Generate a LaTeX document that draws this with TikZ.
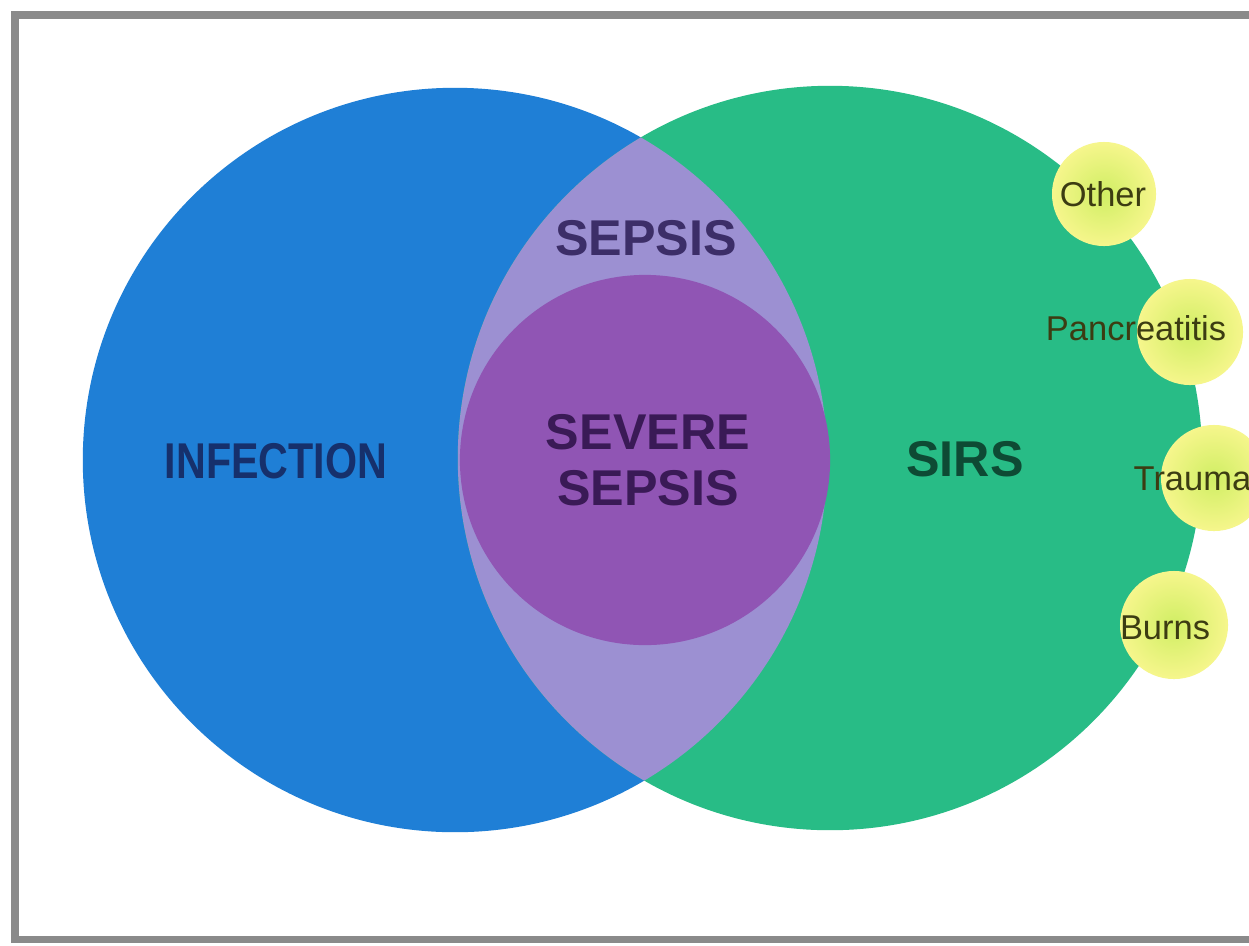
\documentclass[tikz,border=0pt]{standalone}
\usepackage{fontspec}
\setmainfont{Liberation Sans}
\definecolor{infblue}{HTML}{1F7FD6}
\definecolor{sirsgreen}{HTML}{28BC86}
\definecolor{lenscol}{HTML}{9C90D2}
\definecolor{severecol}{HTML}{9055B4}
\definecolor{inftext}{HTML}{16306C}
\definecolor{sirstext}{HTML}{0E4A34}
\definecolor{sepsistext}{HTML}{3C2E68}
\definecolor{severetext}{HTML}{3A1A56}
\definecolor{smalltext}{HTML}{3C3C12}
\definecolor{framecol}{HTML}{8A8A8A}
\tikzset{
  bigset/.style={circle, inner sep=0pt, minimum size=7.44cm},
  cause/.style={circle, inner sep=0pt, minimum size=1.05cm,
    shading=radial, inner color={rgb,255:red,208;green,238;blue,100},
    outer color={rgb,255:red,246;green,246;blue,140}},
  bigtext/.style={font=\fontsize{14.3}{17}\selectfont\bfseries, align=center},
  smalllabel/.style={font=\fontsize{9.8}{11}\selectfont, text=smalltext, inner sep=0pt}
}
\begin{document}
\begin{tikzpicture}[x=0.01cm,y=-0.01cm]
\useasboundingbox (0,0) rectangle (1249,945);
\clip (0,0) rectangle (1249,945);
\fill[white] (0,0) rectangle (1249,945);
\draw[framecol, line width=2pt] (15,15) rectangle (1300,939);
% main sets
\node[bigset, fill=infblue] (infection) at (455,460) {};
\node[bigset, fill=sirsgreen] (sirs) at (830,458) {};
\begin{scope}
  \clip (455,460) circle[radius=3.72cm];
  \fill[lenscol] (830,458) circle[radius=3.72cm];
\end{scope}
\node[circle, inner sep=0pt, minimum size=3.7cm, fill=severecol] (severe) at (645,460) {};
% causes of SIRS
\node[cause, minimum size=1.04cm] (other) at (1104,194) {};
\node[cause, minimum size=1.06cm] (pancreatitis) at (1190,332) {};
\node[cause, minimum size=1.06cm] (trauma) at (1214,478) {};
\node[cause, minimum size=1.08cm] (burns) at (1174,625) {};
% labels
\node[bigtext, text=inftext, xscale=0.82] (infectionlabel) at (276,461) {INFECTION};
\node[bigtext, text=sirstext] (sirslabel) at (965,459) {SIRS};
\node[bigtext, text=sepsistext] (sepsislabel) at (646,238) {SEPSIS};
\node[bigtext, text=severetext, align=center] (severelabel) at (648,460) {SEVERE\\[-1pt]SEPSIS};
\node[smalllabel] (otherlabel) at (1103,194) {Other};
\node[smalllabel] (pancreatitislabel) at (1136,328) {Pancreatitis};
\node[smalllabel, anchor=west] (traumalabel) at (1133,479) {Trauma};
\node[smalllabel] (burnslabel) at (1165,628) {Burns};
\end{tikzpicture}
\end{document}
